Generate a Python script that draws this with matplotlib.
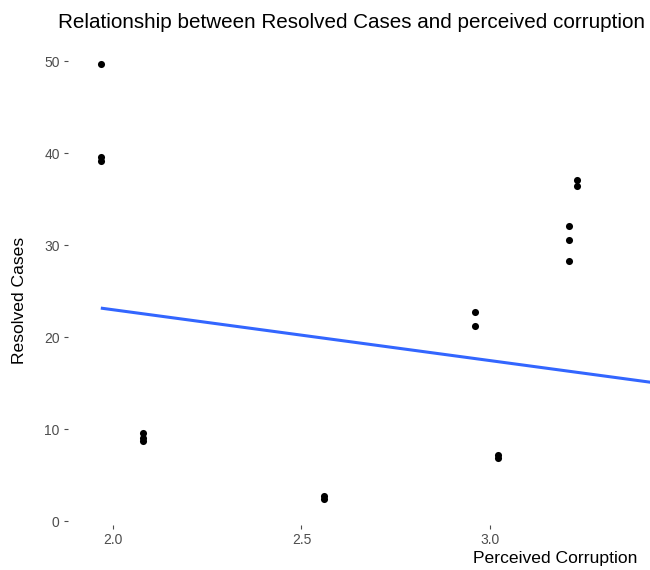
import matplotlib
matplotlib.use("Agg")
import matplotlib.pyplot as plt
import numpy as np

plt.rcParams['font.family'] = ['Liberation Sans', 'DejaVu Sans']

# Perceived corruption index vs. number of resolved cases
corruption = [1.968, 1.968, 1.968, 2.08, 2.08, 2.08, 2.56, 2.56,
              2.96, 2.96, 3.02, 3.02, 3.21, 3.21, 3.21, 3.23, 3.23]
resolved = [49.7, 39.6, 39.1, 9.6, 9.0, 8.7, 2.7, 2.4,
            22.7, 21.2, 7.2, 6.9, 32.1, 30.5, 28.3, 37.1, 36.4]

# Linear trend coefficients (intercept, slope)
trend_intercept = 34.03
trend_slope = -5.53

x_ticks = [2.0, 2.5, 3.0]
y_ticks = [0, 10, 20, 30, 40, 50]

fig = plt.figure(figsize=(6.5, 5.7), dpi=100)
ax = fig.add_axes([68 / 650, 1 - 525 / 570, 1 - 68 / 650, (525 - 42) / 570])

xlim = (1.881, 3.424)
ax.set_xlim(*xlim)
ax.set_ylim(-0.43, 52.07)

ax.scatter(corruption, resolved, s=26, color='black', zorder=3, linewidths=0)

xs = np.array([min(corruption), xlim[1] + 0.05])
ax.plot(xs, trend_intercept + trend_slope * xs, color='#3366FF', lw=2.2,
        solid_capstyle='butt', zorder=2)

for s in ax.spines.values():
    s.set_visible(False)

ax.set_xticks(x_ticks)
ax.set_xticklabels([f"{v:.1f}" for v in x_ticks])
ax.set_yticks(y_ticks)
ax.tick_params(axis='both', colors='#4D4D4D', labelcolor='#4D4D4D',
               labelsize=10, length=3, width=0.8, pad=3)

fig.text(352 / 650, 1 - 23 / 570, "Relationship between Resolved Cases and perceived corruption",
         ha='center', va='center', fontsize=14.9, color='black')
fig.text(637 / 650, 1 - 559 / 570, "Perceived Corruption",
         ha='right', va='center', fontsize=12.6, color='black')
fig.text(20 / 650, 1 - 300 / 570, "Resolved Cases", rotation=90,
         ha='center', va='center', fontsize=12.6, color='black')

fig.savefig("out.png", dpi=100)
